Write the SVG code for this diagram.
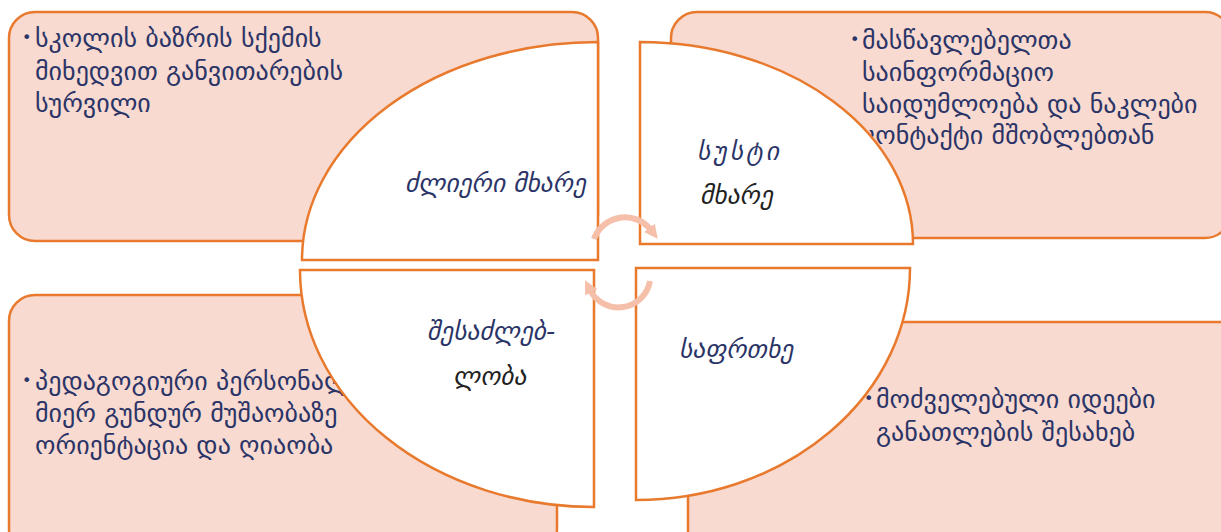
<svg xmlns="http://www.w3.org/2000/svg" width="1221" height="532" viewBox="0 0 1221 532">
<style>
.box{fill:#F8DAD0;stroke:#E8792D;stroke-width:2.5}
.q{fill:#FFFFFF;stroke:#E8792D;stroke-width:2.5}
.t{font-family:"DejaVu Sans","Noto Sans",sans-serif;font-size:26px;fill:#2B3467}
.b{font-family:"DejaVu Sans","Noto Sans",sans-serif;font-size:16px;fill:#2B3467}
.l{font-family:"DejaVu Sans","Noto Sans",sans-serif;font-size:25.5px;font-style:italic;fill:#2B3467}
.k{fill:#222222}
.arr{fill:none;stroke:#F5BFAA;stroke-width:6}
</style>
<defs>
<marker id="ah" viewBox="0 0 10 10" refX="2" refY="5" markerWidth="2.3" markerHeight="2.6" orient="auto">
<path d="M0,0 L10,5 L0,10 Z" fill="#F5BFAA"/>
</marker>
</defs>
<g id="node-strength">
<rect class="box" x="9" y="12" width="589" height="229" rx="26"/>
<text class="b" x="22" y="43">•</text>
<text class="t" x="35" y="47">სკოლის ბაზრის სქემის</text>
<text class="t" x="35" y="80">მიხედვით განვითარების</text>
<text class="t" x="35" y="112">სურვილი</text>
<path class="q" d="M302,260 A296,218 0 0 1 598,42 L598,260 Z"/>
<text class="l" x="405" y="192">ძლიერი მხარე</text>
</g>
<g id="node-weakness">
<rect class="box" x="671" y="12" width="560" height="226" rx="26"/>
<text class="b" x="850" y="45">•</text>
<text class="t" x="862" y="49">მასწავლებელთა</text>
<text class="t" x="862" y="81">საინფორმაციო</text>
<text class="t" x="862" y="113">საიდუმლოება და ნაკლები</text>
<text class="t" x="862" y="144">კონტაქტი მშობლებთან</text>
<path class="q" d="M640,42 A273,202 0 0 1 913,244 L640,244 Z"/>
<text class="l" x="697" y="160" letter-spacing="3">სუსტი</text>
<text class="l k" x="700" y="204">მხარე</text>
</g>
<g id="node-opportunity">
<rect class="box" x="9" y="295" width="548" height="260" rx="26"/>
<text class="b" x="22" y="386">•</text>
<text class="t" x="35" y="390">პედაგოგიური პერსონალის</text>
<text class="t" x="35" y="422">მიერ გუნდურ მუშაობაზე</text>
<text class="t" x="35" y="454">ორიენტაცია და ღიაობა</text>
<path class="q" d="M300,270 L594,270 L594,507 A294,237 0 0 1 300,270 Z"/>
<text class="l" x="427" y="340">შესაძლებ-</text>
<text class="l k" x="453" y="385">ლობა</text>
</g>
<g id="node-threat">
<rect class="box" x="688" y="322" width="560" height="240" rx="26"/>
<text class="b" x="864" y="404">•</text>
<text class="t" x="876" y="408">მოძველებული იდეები</text>
<text class="t" x="876" y="441">განათლების შესახებ</text>
<path class="q" d="M636,268 L910,268 A274,232 0 0 1 636,500 Z"/>
<text class="l" x="679" y="358">საფრთხე</text>
</g>
<g id="connectors">
<path class="arr" d="M594,239 A33,33 0 0 1 651,230" marker-end="url(#ah)"/>
<path class="arr" d="M650,281 A32,32 0 0 1 590,290" marker-end="url(#ah)"/>
</g>
</svg>
